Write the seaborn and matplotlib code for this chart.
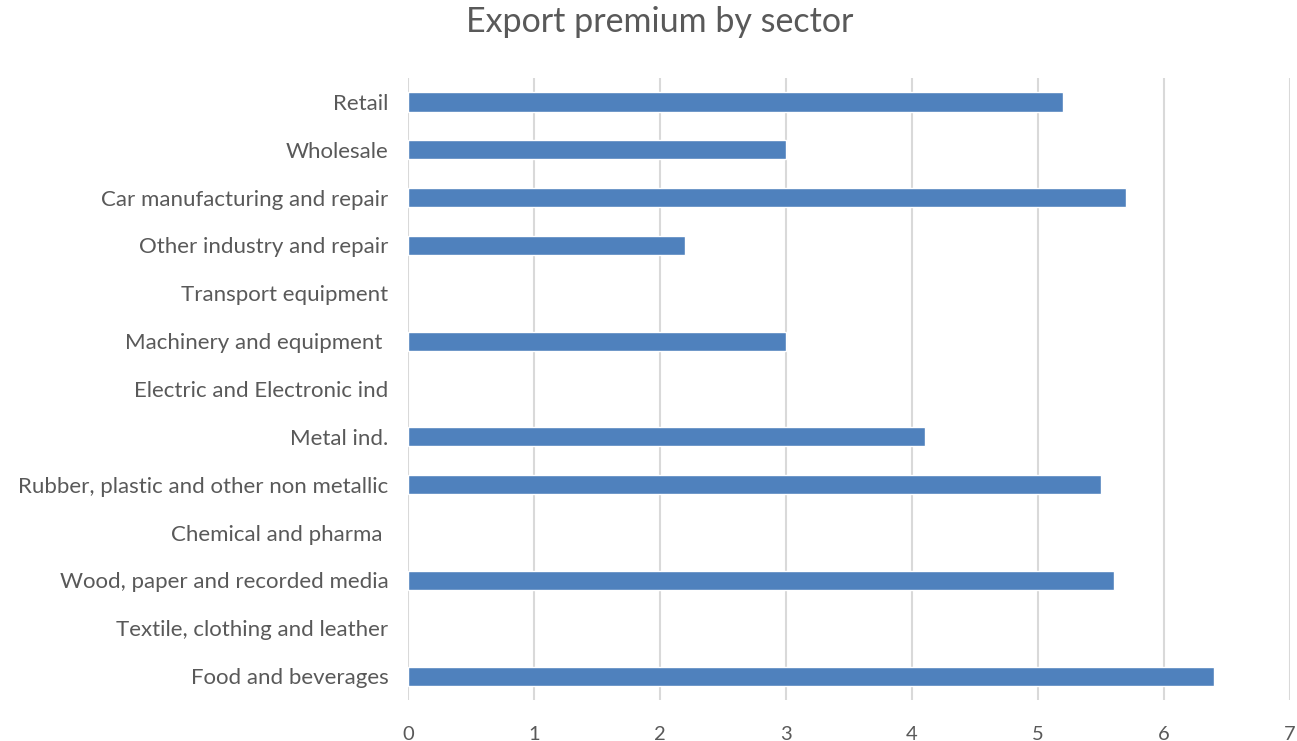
import numpy as np
import pandas as pd
import matplotlib
matplotlib.use("Agg")
import matplotlib.pyplot as plt
import seaborn as sns

sectors = [
    "Retail",
    "Wholesale",
    "Car manufacturing and repair",
    "Other industry and repair",
    "Transport equipment",
    "Machinery and equipment ",
    "Electric and Electronic ind",
    "Metal ind.",
    "Rubber, plastic and other non metallic",
    "Chemical and pharma ",
    "Wood, paper and recorded media",
    "Textile, clothing and leather",
    "Food and beverages",
]
premium = [5.2, 3.0, 5.7, 2.2, np.nan, 3.0, np.nan, 4.1, 5.5, np.nan, 5.6, np.nan, 6.4]
x_ticks = [0, 1, 2, 3, 4, 5, 6, 7]

df = pd.DataFrame({"sector": sectors, "premium": premium})

sns.set_theme(style="white")
plt.rcParams["font.family"] = ["Lato", "DejaVu Sans"]

text_color = "#595959"
fig = plt.figure(figsize=(12.97, 7.41), dpi=100)
ax = fig.add_axes([0.3146, 0.0553, 0.6800, 0.8394])

sns.barplot(data=df.dropna(), x="premium", y="sector", order=sectors,
            color="#4F81BD", saturation=1, width=0.4, errorbar=None, ax=ax)

ax.set_xlim(0, 7)
ax.set_xticks(x_ticks)
ax.set_xticklabels([str(t) for t in x_ticks])
ax.xaxis.grid(True, color="#D9D9D9", linewidth=1.5)
ax.set_axisbelow(True)
for s in ax.spines.values():
    s.set_visible(False)
ax.set_xlabel("")
ax.set_ylabel("")
ax.tick_params(axis="x", length=0, pad=19, labelsize=14.5, labelcolor=text_color)
ax.tick_params(axis="y", length=0, pad=14, labelsize=16, labelcolor=text_color)

fig.text(0.509, 0.970, "Export premium by sector", ha="center", va="center",
         fontsize=24.5, color=text_color)

fig.savefig("out.png", dpi=100)
